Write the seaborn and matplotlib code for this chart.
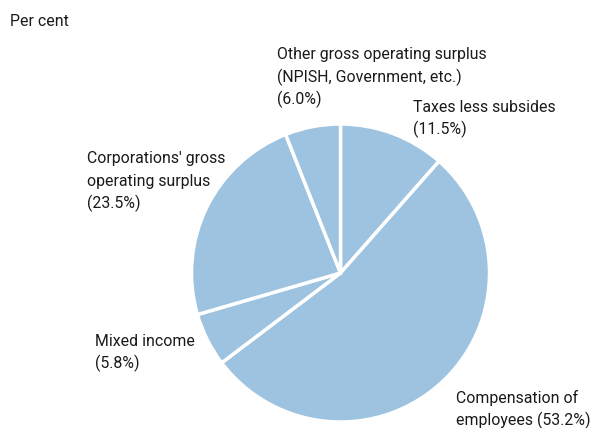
import matplotlib
matplotlib.use("Agg")
import matplotlib.pyplot as plt
import seaborn as sns

categories = ["Taxes less subsides", "Compensation of employees", "Mixed income",
              "Corporations' gross operating surplus",
              "Other gross operating surplus (NPISH, Government, etc.)"]
values = [11.5, 53.2, 5.8, 23.5, 6.0]
label_texts = [
    "Taxes less subsides\n(11.5%)",
    "Compensation of\nemployees (53.2%)",
    "Mixed income\n(5.8%)",
    "Corporations' gross\noperating surplus\n(23.5%)",
    "Other gross operating surplus\n(NPISH, Government, etc.)\n(6.0%)",
]
# first-line centre y in pixels
label_pos = [(413, 107), (456, 398), (95, 341), (87, 159), (277, 55)]

sns.set_theme(style="white")
plt.rcParams["font.family"] = ["Roboto", "DejaVu Sans"]

W, H = 597, 428
fig = plt.figure(figsize=(W / 100, H / 100), dpi=100)
fig.patch.set_facecolor("white")

cx, cy, r = 340.5, 273, 149
ax = fig.add_axes([(cx - r) / W, (H - cy - r) / H, 2 * r / W, 2 * r / H])
color = "#9dc3e0"
ax.pie(values, startangle=90, counterclock=False, colors=[color] * len(values),
       wedgeprops=dict(edgecolor="white", linewidth=2.5))
ax.set_xlim(-1, 1)
ax.set_ylim(-1, 1)
ax.set_aspect("equal")
ax.axis("off")

fs = 11.4
step = 22
fig.text(10 / W, 1 - 22 / H, "Per cent", fontsize=fs, va="center", ha="left", color="#1a1a1a")
for txt, (x, y) in zip(label_texts, label_pos):
    for i, line in enumerate(txt.split("\n")):
        fig.text(x / W, 1 - (y + i * step) / H, line, fontsize=fs, va="center",
                 ha="left", color="#1a1a1a")

fig.savefig("out.png", dpi=100)
